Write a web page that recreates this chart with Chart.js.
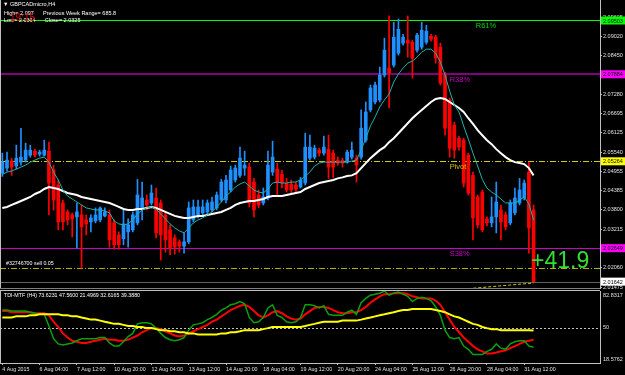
<!DOCTYPE html>
<html>
<head>
<meta charset="utf-8">
<script src="https://cdn.jsdelivr.net/npm/chart.js@4.4.0/dist/chart.umd.min.js"></script>
<style>
  html, body { margin: 0; padding: 0; background: #000; width: 625px; height: 375px; overflow: hidden; }
  body { font-family: "Liberation Sans", Arial, sans-serif; color: #fff; }
  canvas { position: absolute; left: 0; }
  #main { top: 0; }
  #tdi { top: 289px; }
  .t { position: absolute; white-space: pre; line-height: 1; }
</style>
</head>
<body>
<canvas id="main" width="625" height="289"></canvas>
<canvas id="tdi" width="625" height="86"></canvas>

<div class="t" style="left:3px;top:2px;font-size:5.5px">▼ GBPCADmicro,H4</div>
<div class="t" style="left:4px;top:11px;font-size:5.5px">High= 2.097      Previous Week Range= 685.8</div>
<div class="t" style="left:4px;top:18px;font-size:5.5px">Low= 2.0364      Close= 2.0325</div>
<div class="t" style="left:10px;top:13px;font-size:10px;color:#e00000">19:15</div>
<div class="t" style="left:6px;top:261px;font-size:5.3px">#32746700 sell 0.05</div>
<div class="t" style="left:531px;top:249px;font-size:23px;color:#33dd33">+41.9</div>
<div class="t" style="left:4px;top:293px;font-size:5.3px">TDI-MTF (H4) 73.6231 47.5600 21.4969 32.6165 39.3880</div>

<script>
// ---------- DATI ----------
const opens = [2.0491,2.0506,2.0527,2.0512,2.0524,2.0530,2.0545,2.0557,2.0548,2.0545,
  2.0557,2.0500,2.0455,2.0401,2.0374,2.0365,2.0359,2.0365,2.0350,2.0344,
  2.0347,2.0350,2.0362,2.0365,2.0341,2.0305,2.0293,2.0314,2.0320,2.0341,
  2.0386,2.0410,2.0401,2.0416,2.0401,2.0365,2.0320,2.0296,2.0284,2.0271,
  2.0284,2.0350,2.0365,2.0371,2.0374,2.0380,2.0386,2.0410,2.0410,2.0440,
  2.0470,2.0484,2.0506,2.0509,2.0464,2.0425,2.0401,2.0416,2.0494,2.0503,
  2.0487,2.0461,2.0458,2.0455,2.0449,2.0461,2.0536,2.0539,2.0560,2.0551,
  2.0563,2.0551,2.0530,2.0530,2.0524,2.0539,2.0536,2.0539,2.0590,2.0681,
  2.0705,2.0711,2.0786,2.0807,2.0816,2.0852,2.0882,2.0891,2.0885,2.0861,
  2.0870,2.0885,2.0903,2.0900,2.0870,2.0786,2.0711,2.0635,2.0596,2.0590,
  2.0545,2.0484,2.0419,2.0434,2.0353,2.0341,2.0359,2.0380,2.0365,2.0341,
  2.0371,2.0401,2.0416,2.0494,2.0380];
const highs = [2.0551,2.0554,2.0536,2.0575,2.0626,2.0581,2.0575,2.0563,2.0560,2.0590,
  2.0584,2.0515,2.0470,2.0410,2.0380,2.0371,2.0401,2.0395,2.0365,2.0365,
  2.0386,2.0389,2.0386,2.0380,2.0350,2.0314,2.0380,2.0353,2.0374,2.0472,
  2.0464,2.0425,2.0455,2.0446,2.0410,2.0374,2.0335,2.0305,2.0290,2.0311,
  2.0404,2.0410,2.0410,2.0410,2.0410,2.0419,2.0434,2.0472,2.0484,2.0512,
  2.0515,2.0569,2.0557,2.0521,2.0475,2.0440,2.0446,2.0557,2.0587,2.0521,
  2.0500,2.0475,2.0470,2.0464,2.0478,2.0611,2.0605,2.0575,2.0566,2.0602,
  2.0605,2.0560,2.0539,2.0536,2.0560,2.0584,2.0545,2.0681,2.0705,2.0756,
  2.0765,2.0810,2.0897,2.0964,2.0945,2.0955,2.0909,2.0964,2.0891,2.0912,
  2.0945,2.0936,2.0909,2.0906,2.0882,2.0795,2.0717,2.0644,2.0602,2.0596,
  2.0551,2.0494,2.0425,2.0440,2.0359,2.0419,2.0464,2.0395,2.0374,2.0410,
  2.0446,2.0475,2.0470,2.0524,2.0395];
const lows = [2.0481,2.0497,2.0484,2.0503,2.0515,2.0524,2.0539,2.0539,2.0542,2.0542,
  2.0365,2.0380,2.0320,2.0320,2.0335,2.0299,2.0265,2.0205,2.0305,2.0314,
  2.0341,2.0344,2.0359,2.0268,2.0262,2.0262,2.0275,2.0268,2.0314,2.0335,
  2.0350,2.0380,2.0395,2.0296,2.0229,2.0253,2.0245,2.0247,2.0253,2.0250,
  2.0278,2.0344,2.0356,2.0365,2.0368,2.0374,2.0380,2.0404,2.0401,2.0434,
  2.0464,2.0478,2.0484,2.0389,2.0359,2.0386,2.0395,2.0410,2.0484,2.0425,
  2.0446,2.0434,2.0431,2.0434,2.0446,2.0455,2.0530,2.0533,2.0542,2.0545,
  2.0475,2.0478,2.0515,2.0509,2.0521,2.0533,2.0464,2.0533,2.0584,2.0675,
  2.0699,2.0705,2.0780,2.0687,2.0810,2.0846,2.0876,2.0840,2.0777,2.0855,
  2.0864,2.0879,2.0888,2.0822,2.0756,2.0605,2.0539,2.0536,2.0560,2.0449,
  2.0425,2.0290,2.0326,2.0314,2.0332,2.0329,2.0311,2.0290,2.0320,2.0335,
  2.0365,2.0395,2.0410,2.0250,2.0163];
const closes = [2.0524,2.0530,2.0509,2.0536,2.0539,2.0560,2.0560,2.0545,2.0554,2.0560,
  2.0461,2.0410,2.0344,2.0344,2.0350,2.0353,2.0374,2.0329,2.0338,2.0356,
  2.0365,2.0386,2.0374,2.0290,2.0275,2.0275,2.0338,2.0335,2.0365,2.0425,
  2.0416,2.0395,2.0431,2.0311,2.0305,2.0290,2.0265,2.0268,2.0271,2.0284,
  2.0386,2.0389,2.0389,2.0389,2.0401,2.0404,2.0425,2.0464,2.0470,2.0500,
  2.0506,2.0536,2.0515,2.0401,2.0380,2.0395,2.0419,2.0515,2.0539,2.0461,
  2.0461,2.0440,2.0440,2.0443,2.0470,2.0569,2.0569,2.0566,2.0551,2.0569,
  2.0509,2.0509,2.0521,2.0521,2.0554,2.0560,2.0515,2.0626,2.0675,2.0747,
  2.0756,2.0786,2.0861,2.0792,2.0900,2.0924,2.0900,2.0882,2.0837,2.0906,
  2.0921,2.0918,2.0894,2.0837,2.0762,2.0626,2.0566,2.0560,2.0569,2.0461,
  2.0431,2.0356,2.0335,2.0320,2.0341,2.0359,2.0404,2.0344,2.0329,2.0401,
  2.0416,2.0440,2.0461,2.0326,2.0164];

// medie mobili
const maFast = [2.0487,2.0494,2.0497,2.0503,2.0509,2.0515,2.0524,2.0530,2.0536,2.0539,
  2.0524,2.0494,2.0470,2.0440,2.0422,2.0413,2.0404,2.0395,2.0386,2.0383,
  2.0380,2.0380,2.0377,2.0371,2.0347,2.0338,2.0335,2.0338,2.0350,2.0368,
  2.0380,2.0386,2.0389,2.0383,2.0368,2.0353,2.0338,2.0326,2.0317,2.0311,
  2.0326,2.0341,2.0350,2.0356,2.0365,2.0374,2.0389,2.0404,2.0422,2.0434,
  2.0449,2.0458,2.0464,2.0452,2.0440,2.0434,2.0431,2.0443,2.0461,2.0464,
  2.0461,2.0461,2.0464,2.0464,2.0470,2.0482,2.0494,2.0512,2.0521,2.0524,
  2.0524,2.0524,2.0524,2.0524,2.0524,2.0527,2.0530,2.0560,2.0596,2.0633,
  2.0660,2.0690,2.0711,2.0729,2.0765,2.0789,2.0807,2.0822,2.0828,2.0840,
  2.0855,2.0864,2.0864,2.0852,2.0825,2.0786,2.0738,2.0696,2.0675,2.0633,
  2.0593,2.0551,2.0512,2.0472,2.0446,2.0434,2.0425,2.0413,2.0401,2.0401,
  2.0401,2.0410,2.0419,2.0398,2.0350];
const maSlow = [2.0386,2.0389,2.0395,2.0401,2.0407,2.0413,2.0419,2.0428,2.0434,2.0443,
  2.0449,2.0446,2.0443,2.0437,2.0431,2.0428,2.0425,2.0419,2.0416,2.0413,
  2.0410,2.0407,2.0404,2.0401,2.0395,2.0389,2.0383,2.0380,2.0380,2.0383,
  2.0383,2.0386,2.0389,2.0386,2.0380,2.0374,2.0368,2.0362,2.0359,2.0356,
  2.0356,2.0359,2.0362,2.0362,2.0365,2.0368,2.0371,2.0374,2.0380,2.0386,
  2.0395,2.0401,2.0404,2.0407,2.0407,2.0410,2.0413,2.0419,2.0422,2.0422,
  2.0422,2.0425,2.0428,2.0431,2.0434,2.0443,2.0449,2.0455,2.0461,2.0464,
  2.0467,2.0470,2.0475,2.0478,2.0482,2.0484,2.0491,2.0506,2.0521,2.0536,
  2.0548,2.0560,2.0569,2.0584,2.0596,2.0611,2.0626,2.0641,2.0656,2.0669,
  2.0681,2.0693,2.0705,2.0714,2.0717,2.0714,2.0705,2.0696,2.0687,2.0675,
  2.0656,2.0639,2.0620,2.0605,2.0590,2.0578,2.0563,2.0551,2.0539,2.0530,
  2.0524,2.0521,2.0518,2.0506,2.0484];

// linea tratteggiata in basso a destra (barra, prezzo)
const trendBars = [100, 114];
const trendPrices = [2.0143, 2.0160];

// TDI: verde (RSI), rossa (segnale), gialla (base)
const tdiRsi = [65.8,65.8,64.9,64.9,64.9,64.9,63.9,63.0,62.0,62.0,
  51.6,40.3,35.6,34.6,35.6,36.5,38.4,40.3,40.3,40.3,
  40.3,41.3,41.3,36.5,33.7,33.7,37.5,42.2,45.0,53.5,
  54.5,54.5,53.5,49.7,45.0,41.3,39.4,38.4,39.4,41.3,
  47.9,52.6,53.5,54.5,57.3,59.2,62.0,65.8,67.7,70.5,
  71.5,73.4,71.5,59.2,54.5,55.4,59.2,67.7,70.5,61.1,
  59.2,55.4,54.5,55.4,59.2,70.5,70.5,69.6,67.7,69.6,
  62.0,61.1,61.1,61.1,63.9,65.8,62.0,72.4,76.2,79.1,
  80.0,80.9,82.8,79.1,80.9,81.9,80.0,78.1,73.4,76.2,
  77.2,76.2,74.3,68.6,61.1,47.9,41.3,40.3,41.3,33.7,
  30.8,26.1,26.1,26.1,29.0,30.8,35.6,31.8,30.8,35.6,
  37.5,38.4,38.4,33.7,32.6];
const tdiSignal = [64.9,64.9,63.9,63.9,63.9,63.9,63.9,63.0,63.0,63.0,
  61.1,55.4,50.7,45.0,41.3,38.4,37.5,36.5,36.5,37.5,
  38.4,39.4,40.3,39.4,39.4,38.4,38.4,39.4,41.3,43.1,
  46.0,47.9,49.7,49.7,48.8,46.9,45.0,43.1,42.2,43.1,
  45.0,46.9,48.8,50.7,52.6,55.4,57.3,60.2,63.0,65.8,
  67.7,69.6,70.5,68.6,64.9,61.1,59.2,61.1,63.9,64.9,
  63.0,60.2,58.3,57.3,58.3,62.0,64.9,67.7,68.6,68.6,
  67.7,65.8,63.9,63.0,63.0,63.9,63.9,65.8,68.6,72.4,
  75.3,78.1,80.0,80.0,80.9,80.9,80.9,80.0,78.1,77.2,
  76.2,76.2,76.2,74.3,70.5,63.9,57.3,50.7,46.0,41.3,
  37.5,33.7,30.8,29.0,27.1,27.1,28.0,29.0,29.9,31.8,
  33.7,35.6,37.5,38.4,39.4];
const tdiBase = [59.2,59.2,59.2,60.2,60.2,60.2,61.1,61.1,62.0,62.0,
  62.0,62.0,62.0,61.1,61.1,60.2,60.2,59.2,58.3,57.3,
  57.3,56.4,55.4,54.5,53.5,53.5,52.6,51.6,51.6,50.7,
  50.7,49.7,49.7,48.8,47.9,47.9,46.9,46.9,46.0,46.0,
  45.0,45.0,44.1,44.1,44.1,44.1,44.1,45.0,45.0,46.0,
  46.0,46.9,47.9,47.9,47.9,47.9,48.8,49.7,50.7,50.7,
  50.7,50.7,50.7,50.7,50.7,51.6,52.6,53.5,54.5,55.4,
  55.4,55.4,55.4,56.4,56.4,56.4,56.4,57.3,58.3,59.2,
  60.2,61.1,62.0,63.0,63.9,64.9,65.8,65.8,66.8,66.8,
  66.8,66.8,66.8,65.8,64.9,63.9,62.0,60.2,59.2,57.3,
  55.4,53.5,52.6,50.7,49.7,48.8,48.8,47.9,47.9,47.9,
  47.9,47.9,47.9,47.9,47.56];

// assi
const priceTicks = [2.09605,2.09020,2.08450,2.07280,2.06695,2.06125,2.05540,2.04955,2.04385,2.03800,2.03215,2.02060,2.01475];
const tdiTicks = [82.8317, 50, 18.5762];
const timeTickBars = [0,8,16,24,32,40,48,56,64,72,80,88,96,104,112];
const timeTickLabels = ['4 Aug 2015','6 Aug 04:00','7 Aug 12:00','10 Aug 20:00','12 Aug 04:00','13 Aug 12:00','14 Aug 20:00','18 Aug 04:00','19 Aug 12:00','20 Aug 20:00','24 Aug 04:00','25 Aug 12:00','26 Aug 20:00','28 Aug 04:00','31 Aug 12:00'];

// livelli orizzontali
const levelPrices = [2.09503, 2.07884, 2.05264, 2.02649, 2.02060];
const levelNames = ['R61%', 'R38%', 'Pivot', 'S38%', ''];
const levelNameBars = [101.6, 96, 96, 96, 0];
const bidPrice = 2.01642;

// stili
const levelColors = ['#00ff00', '#800080', '#d0d000', '#cc00cc', '#b4b400'];
const levelWidths = [1, 2, 1, 1, 1];
const levelDash = [[], [], [6, 2, 1, 2], [], [6, 2, 1, 2]];
const levelTextColors = ['#00dd00', '#cc00cc', '#d8c000', '#cc00cc', ''];
const levelBoxColors = ['#00ff00', '#ff00ff', '#ffff00', '#ff00ff', null];
const BULL = '#1e90ff', BEAR = '#ff0000';
const AXIS = '#c0c0c0';
const FONT = '"Liberation Sans", Arial, sans-serif';
const X_MIN = -0.5, X_MAX = 128.26;

const idx = opens.map((_, i) => i);
const candleColor = idx.map(i => closes[i] >= opens[i] ? BULL : BEAR);

// ---------- PLUGIN ----------
const mainDecor = {
  id: 'mainDecor',
  beforeDatasetsDraw(chart) {
    const { ctx, chartArea: a, scales: { y } } = chart;
    ctx.save();
    ctx.beginPath(); ctx.rect(a.left, a.top, a.right - a.left, a.bottom - a.top); ctx.clip();
    levelPrices.forEach((p, k) => {
      const py = Math.round(y.getPixelForValue(p)) + (levelWidths[k] % 2 ? 0.5 : 0);
      ctx.strokeStyle = levelColors[k];
      ctx.lineWidth = levelWidths[k];
      ctx.setLineDash(levelDash[k]);
      ctx.beginPath(); ctx.moveTo(a.left, py); ctx.lineTo(a.right, py); ctx.stroke();
    });
    const by = Math.round(y.getPixelForValue(bidPrice)) + 0.5;
    ctx.setLineDash([]);
    ctx.strokeStyle = '#606060'; ctx.lineWidth = 1;
    ctx.beginPath(); ctx.moveTo(a.left, by); ctx.lineTo(a.right, by); ctx.stroke();
    ctx.restore();
  },
  afterDraw(chart) {
    const { ctx, chartArea: a, scales: { x, y } } = chart;
    ctx.save();
    // nomi dei livelli
    ctx.font = '7.5px ' + FONT;
    ctx.textBaseline = 'top';
    levelNames.forEach((n, k) => {
      if (!n) return;
      ctx.fillStyle = levelTextColors[k];
      ctx.fillText(n, x.getPixelForValue(levelNameBars[k]), y.getPixelForValue(levelPrices[k]) + 2);
    });
    // etichette prezzo sull'asse
    ctx.font = '5.5px ' + FONT;
    ctx.textBaseline = 'middle';
    const box = (p, bg) => {
      const py = y.getPixelForValue(p);
      ctx.fillStyle = bg;
      ctx.fillRect(a.right + 1, py - 4, 24, 8);
      ctx.fillStyle = '#000';
      ctx.fillText(p.toFixed(5), a.right + 3, py + 0.5);
    };
    levelPrices.forEach((p, k) => { if (levelBoxColors[k]) box(p, levelBoxColors[k]); });
    box(bidPrice, '#ffffff');
    // bordi
    ctx.strokeStyle = AXIS; ctx.lineWidth = 1;
    ctx.beginPath(); ctx.moveTo(0.5, a.top); ctx.lineTo(0.5, a.bottom); ctx.stroke();
    ctx.strokeStyle = '#808080';
    ctx.beginPath(); ctx.moveTo(0, a.bottom + 0.5); ctx.lineTo(a.right, a.bottom + 0.5); ctx.stroke();
    ctx.restore();
  }
};

const tdiDecor = {
  id: 'tdiDecor',
  beforeDatasetsDraw(chart) {
    const { ctx, chartArea: a, scales: { y } } = chart;
    const py = Math.round(y.getPixelForValue(50)) + 0.5;
    ctx.save();
    ctx.strokeStyle = '#c0c0c0'; ctx.lineWidth = 1; ctx.setLineDash([2, 2]);
    ctx.beginPath(); ctx.moveTo(a.left, py); ctx.lineTo(a.right, py); ctx.stroke();
    ctx.restore();
  },
  afterDraw(chart) {
    const { ctx, chartArea: a, scales: { y } } = chart;
    ctx.save();
    ctx.font = '5.5px ' + FONT;
    ctx.fillStyle = '#e0e0e0';
    const bases = ['top', 'middle', 'bottom'];
    tdiTicks.forEach((v, k) => {
      ctx.textBaseline = bases[k];
      const py = y.getPixelForValue(v) + (k === 0 ? 2 : k === 2 ? -1 : 0);
      ctx.fillText(String(v), a.right + 3, py);
    });
    ctx.strokeStyle = AXIS; ctx.lineWidth = 1;
    ctx.beginPath(); ctx.moveTo(0.5, a.top); ctx.lineTo(0.5, a.bottom); ctx.stroke();
    ctx.beginPath(); ctx.moveTo(0, a.top - 0.5); ctx.lineTo(a.right, a.top - 0.5); ctx.stroke();
    ctx.restore();
  }
};

// ---------- GRAFICO PRINCIPALE ----------
const xyPts = arr => idx.map(i => ({ x: i, y: arr[i] }));

new Chart(document.getElementById('main'), {
  data: {
    datasets: [
      { type: 'line', data: xyPts(maFast), borderColor: '#20b2aa', borderWidth: 1, pointRadius: 0, order: 0 },
      { type: 'line', data: xyPts(maSlow), borderColor: '#ffffff', borderWidth: 2, pointRadius: 0, order: 0 },
      { type: 'line', data: trendBars.map((b, k) => ({ x: b, y: trendPrices[k] })), borderColor: '#c8c800',
        borderWidth: 1, borderDash: [3, 2], pointRadius: 0, order: 0 },
      { type: 'bar', data: idx.map(i => ({ x: i, y: [opens[i], closes[i]] })), backgroundColor: candleColor,
        barThickness: 3, minBarLength: 1, grouped: false, order: 1 },
      { type: 'bar', data: idx.map(i => ({ x: i, y: [lows[i], highs[i]] })), backgroundColor: candleColor,
        barThickness: 1, grouped: false, order: 2 }
    ]
  },
  options: {
    responsive: false,
    animation: false,
    events: [],
    layout: { padding: { top: 0, bottom: 1, left: 0, right: 0 } },
    plugins: { legend: { display: false }, tooltip: { enabled: false } },
    scales: {
      x: { type: 'linear', min: X_MIN, max: X_MAX, offset: false, display: false },
      y: {
        position: 'right', min: 2.0145, max: 2.1012,
        afterBuildTicks: s => { s.ticks = priceTicks.map(v => ({ value: v })); },
        afterFit: s => { s.width = 25; s.paddingTop = 0; s.paddingBottom = 0; },
        ticks: { callback: v => v.toFixed(5), color: '#e0e0e0', font: { size: 5.5, family: FONT }, padding: 1 },
        grid: { drawOnChartArea: false, tickLength: 2, color: AXIS },
        border: { color: AXIS }
      }
    }
  },
  plugins: [mainDecor]
});

// ---------- TDI ----------
new Chart(document.getElementById('tdi'), {
  type: 'line',
  data: {
    datasets: [
      { data: xyPts(tdiBase), borderColor: '#ffff00', borderWidth: 2, pointRadius: 0 },
      { data: xyPts(tdiRsi), borderColor: '#0ca00c', borderWidth: 1.5, pointRadius: 0 },
      { data: xyPts(tdiSignal), borderColor: '#ff0000', borderWidth: 2, pointRadius: 0 }
    ]
  },
  options: {
    responsive: false,
    animation: false,
    events: [],
    layout: { padding: { top: 2, bottom: 0, left: 0, right: 0 } },
    plugins: { legend: { display: false }, tooltip: { enabled: false } },
    scales: {
      x: {
        type: 'linear', min: X_MIN, max: X_MAX, offset: false,
        afterBuildTicks: s => { s.ticks = timeTickBars.map(v => ({ value: v })); },
        afterFit: s => { s.height = 12; s.paddingLeft = 0; s.paddingRight = 0; },
        ticks: { callback: v => timeTickLabels[timeTickBars.indexOf(v)], align: 'start', maxRotation: 0, autoSkip: false,
          color: '#e0e0e0', font: { size: 5.3, family: FONT }, padding: 1 },
        grid: { drawOnChartArea: false, tickLength: 2, color: AXIS },
        border: { color: AXIS }
      },
      y: {
        position: 'right', min: 18.5762, max: 82.8317,
        afterFit: s => { s.width = 25; s.paddingTop = 0; s.paddingBottom = 0; },
        ticks: { display: false },
        grid: { display: false },
        border: { color: AXIS }
      }
    }
  },
  plugins: [tdiDecor]
});
</script>
</body>
</html>
